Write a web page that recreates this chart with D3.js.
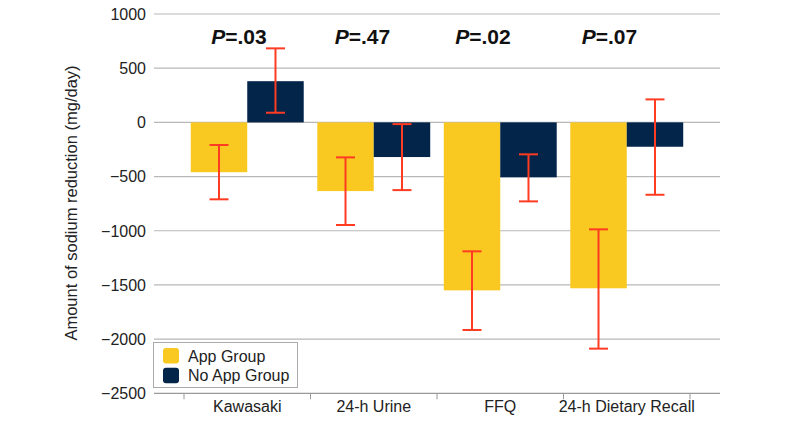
<!DOCTYPE html>
<html>
<head>
<meta charset="utf-8">
<script src="https://cdn.jsdelivr.net/npm/d3@7"></script>
<style>
  body { margin: 0; background: #fff; }
  svg { display: block; font-family: "Liberation Sans", Arial, sans-serif; }
</style>
</head>
<body>
<svg id="chart" width="800" height="423"></svg>
<script>
const categories = ["Kawasaki", "24-h Urine", "FFQ", "24-h Dietary Recall"];
const seriesNames = ["App Group", "No App Group"];
const appMean = [-460, -634, -1550, -1531];
const appUpper = [-209, -323, -1190, -987];
const appLower = [-710, -947, -1916, -2088];
const noAppMean = [380, -320, -507, -225];
const noAppUpper = [683, -16, -295, 212];
const noAppLower = [89, -625, -729, -668];
const pValues = [".03", ".47", ".02", ".07"];
const yTicks = [1000, 500, 0, -500, -1000, -1500, -2000, -2500];

const colors = ["#f9c922", "#03254a"];
const errColor = "#ff3b22";

const svg = d3.select("#chart");
const plotLeft = 154, plotRight = 720;
const y = d3.scaleLinear().domain([-2500, 1000]).range([393.3, 14]);
const x0 = d3.scaleBand().domain(categories).range([184, 690]).paddingInner(0).paddingOuter(0);
const x1 = d3.scaleBand().domain(seriesNames).range([0, x0.bandwidth()]).paddingOuter(0.12).paddingInner(0);

const series = [
  { name: seriesNames[0], mean: appMean, up: appUpper, lo: appLower, color: colors[0] },
  { name: seriesNames[1], mean: noAppMean, up: noAppUpper, lo: noAppLower, color: colors[1] }
];

// gridlines
svg.append("g").selectAll("line").data(yTicks.filter(d => d !== -2500)).join("line")
  .attr("x1", plotLeft).attr("x2", plotRight)
  .attr("y1", d => y(d)).attr("y2", d => y(d))
  .attr("stroke", "#b8b8b8").attr("stroke-width", 1.2);

// y tick labels
svg.append("g").selectAll("text").data(yTicks).join("text")
  .attr("x", 146).attr("y", d => y(d)).attr("dy", "0.36em")
  .attr("text-anchor", "end").attr("font-size", 16).attr("fill", "#222")
  .text(d => d < 0 ? "\u2212" + Math.abs(d) : d);

// y axis title
svg.append("text")
  .attr("transform", `translate(77,${(63 + 343) / 2}) rotate(-90)`)
  .attr("text-anchor", "middle").attr("font-size", 16.5).attr("fill", "#222")
  .text("Amount of sodium reduction (mg/day)");

// bars
series.forEach(s => {
  svg.append("g").selectAll("rect").data(categories).join("rect")
    .attr("x", c => x0(c) + x1(s.name))
    .attr("width", x1.bandwidth())
    .attr("y", (c, i) => y(Math.max(0, s.mean[i])))
    .attr("height", (c, i) => Math.abs(y(s.mean[i]) - y(0)))
    .attr("fill", s.color);
});

// error bars
series.forEach(s => {
  const g = svg.append("g").attr("stroke", errColor).attr("stroke-width", 2);
  categories.forEach((c, i) => {
    const cx = x0(c) + x1(s.name) + x1.bandwidth() / 2;
    g.append("line").attr("x1", cx).attr("x2", cx).attr("y1", y(s.up[i])).attr("y2", y(s.lo[i]));
    g.append("line").attr("x1", cx - 9.5).attr("x2", cx + 9.5).attr("y1", y(s.up[i])).attr("y2", y(s.up[i]));
    g.append("line").attr("x1", cx - 9.5).attr("x2", cx + 9.5).attr("y1", y(s.lo[i])).attr("y2", y(s.lo[i]));
  });
});

// bottom axis
svg.append("line").attr("x1", plotLeft).attr("x2", plotRight)
  .attr("y1", y(-2500)).attr("y2", y(-2500)).attr("stroke", "#999").attr("stroke-width", 1.2);
const bounds = categories.map(c => x0(c)).concat([x0.range()[1]]);
svg.append("g").selectAll("line").data(bounds).join("line")
  .attr("x1", d => d).attr("x2", d => d)
  .attr("y1", y(-2500)).attr("y2", y(-2500) + 6)
  .attr("stroke", "#999").attr("stroke-width", 1);
svg.append("g").selectAll("text").data(categories).join("text")
  .attr("x", c => x0(c) + x0.bandwidth() / 2).attr("y", 412)
  .attr("text-anchor", "middle").attr("font-size", 16).attr("fill", "#222")
  .text(c => c);

// p values
const pText = svg.append("g").selectAll("text").data(categories).join("text")
  .attr("x", (c, i) => x0(c) + [55, 52, 46, 46][i])
  .attr("y", 44).attr("text-anchor", "middle")
  .attr("font-size", 21).attr("font-weight", "bold").attr("fill", "#111");
pText.append("tspan").attr("font-style", "italic").text("P");
pText.append("tspan").text((c, i) => "=" + pValues[i]);

// legend
const lg = svg.append("g");
lg.append("rect").attr("x", 153.5).attr("y", 342.5).attr("width", 144).attr("height", 45)
  .attr("fill", "#fff").attr("stroke", "#aaa").attr("stroke-width", 1);
seriesNames.forEach((n, i) => {
  lg.append("rect").attr("x", 163).attr("y", 348 + i * 19.7).attr("width", 16).attr("height", 15.5)
    .attr("rx", 3).attr("fill", colors[i]);
  lg.append("text").attr("x", 188).attr("y", 356 + i * 19.7).attr("dy", "0.36em")
    .attr("font-size", 16).attr("fill", "#222").text(n);
});
</script>
</body>
</html>
